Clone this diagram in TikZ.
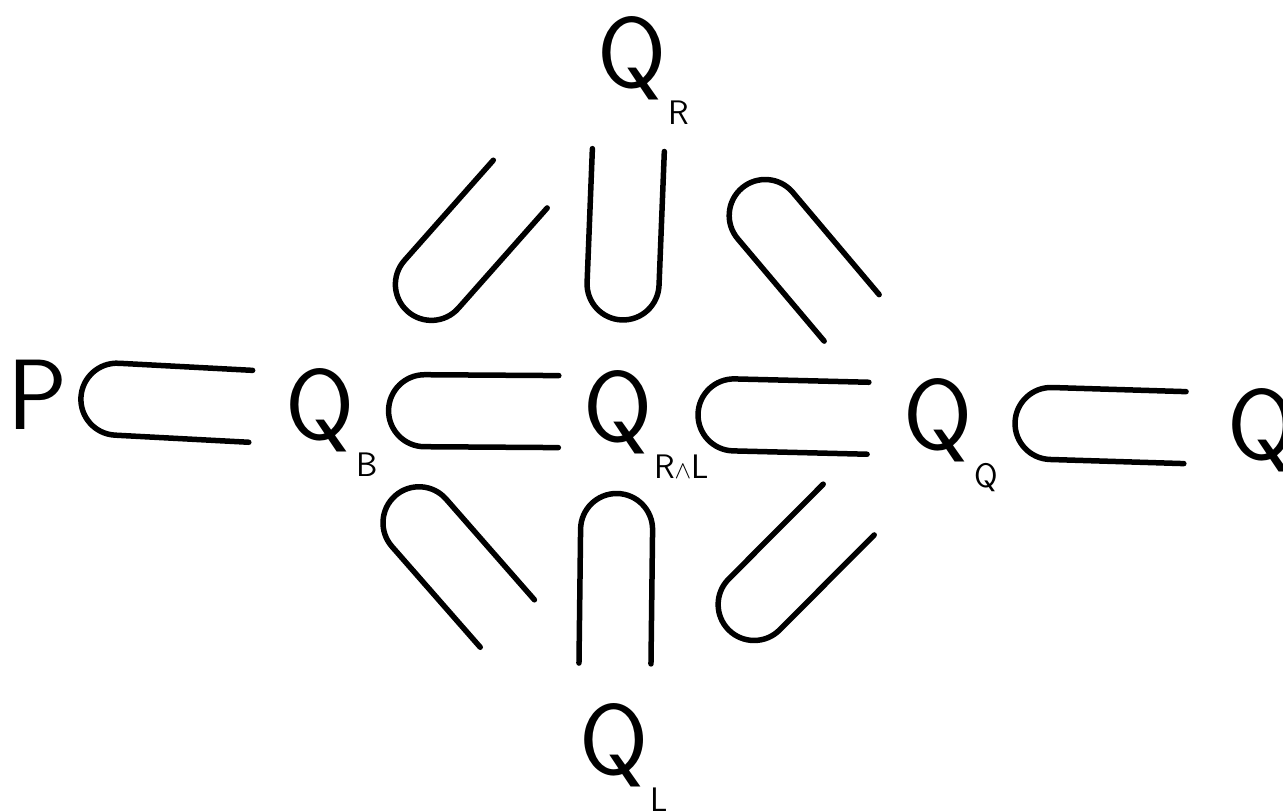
\documentclass[tikz,border=0pt]{standalone}
\begin{document}
\begin{tikzpicture}[x=1pt,y=-1pt,line cap=round,line join=round,
    setname/.style={inner sep=0pt,font=\fontsize{100}{100}\selectfont\sffamily},
    subname/.style={inner sep=1pt,font=\fontsize{34}{34}\selectfont\sffamily},
    incl/.pic={\draw[line width=5.5pt] (85pt,36pt) -- (-49pt,36pt) arc (90:270:36pt) -- (85pt,-36pt);}]
  \useasboundingbox (0,0) rectangle (1283,811);
  \clip (0,0) rectangle (1283,811);
  % the sets
  \node[setname] (p) at (38,395) {P};
  \node[setname,label={[subname]south east:B}] (qb) at (320,410) {Q};
  \node[setname,label={[subname]south east:R$\wedge$L}] (qrl) at (618,412) {Q};
  \node[setname,label={[subname]south east:Q}] (qq) at (938,420) {Q};
  \node[setname] (q) at (1262,430) {Q};
  \node[setname,label={[subname]south east:R}] (qr) at (632,58) {Q};
  \node[setname,label={[subname]south east:L}] (ql) at (614,745) {Q};
  % inclusions, open side towards the larger set
  \path (p) -- (qb) pic[pos=.45,sloped,allow upside down]{incl};
  \path (qb) -- (qrl) pic[pos=.52,sloped,allow upside down]{incl};
  \path (qrl) -- (qq) pic[pos=.52,sloped,allow upside down]{incl};
  \path (qq) -- (q) pic[pos=.5,sloped,allow upside down]{incl};
  \path (qrl) -- (qr) pic[pos=.5,sloped,allow upside down]{incl};
  \path (qrl) -- (ql) pic[pos=.5,sloped,allow upside down]{incl};
  \path (qb) -- (qr) pic[pos=.45,sloped,allow upside down]{incl};
  \path (qr) -- (qq) pic[pos=.55,sloped,allow upside down]{incl};
  \path (qb) -- (ql) pic[pos=.43,sloped,allow upside down]{incl};
  \path (ql) -- (qq) pic[pos=.55,sloped,allow upside down]{incl};
\end{tikzpicture}
\end{document}
